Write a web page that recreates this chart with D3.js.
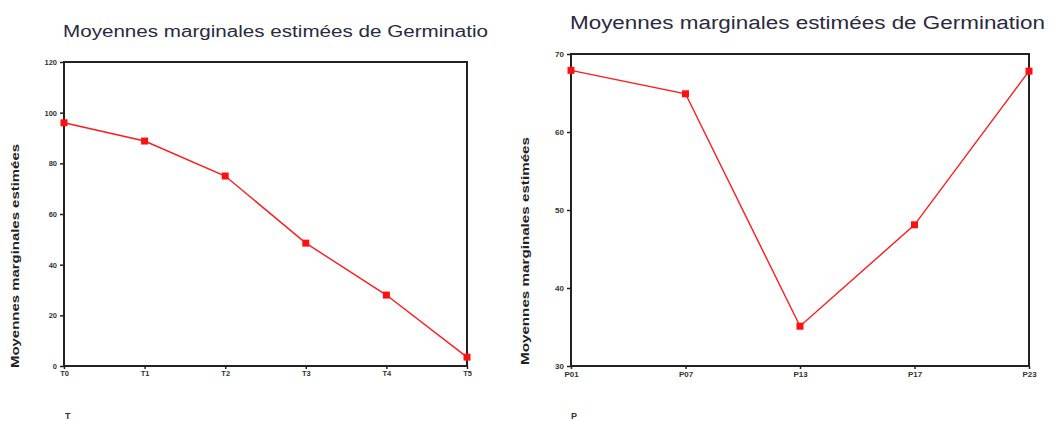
<!DOCTYPE html>
<html>
<head>
<meta charset="utf-8">
<script src="https://cdn.jsdelivr.net/npm/d3@7"></script>
<style>
  body { margin: 0; background: #fff; }
  svg { display: block; font-family: "Liberation Sans", Arial, sans-serif; }
</style>
</head>
<body>
<svg id="chart" width="1059" height="421"></svg>
<script>
// left panel: temps de traitement
const tLabels = ["T0", "T1", "T2", "T3", "T4", "T5"];
const tValues = [96, 88.8, 75, 48.5, 28, 3.5];
const tTicks = [0, 20, 40, 60, 80, 100, 120];

// right panel: provenances
const pLabels = ["P01", "P07", "P13", "P17", "P23"];
const pValues = [67.9, 64.9, 35.1, 48.1, 67.8];
const pTicks = [30, 40, 50, 60, 70];

const titleText = "Moyennes marginales estimées de Germination";
const yTitle = "Moyennes marginales estimées";

const svg = d3.select("#chart");

function drawPanel(opts) {
  const { labels, values, ticks, domain, box, title, xName, tickFont, yLab } = opts;
  const g = svg.append("g");

  const x = d3.scalePoint().domain(labels).range([box.x0, box.x1]);
  const y = d3.scaleLinear().domain(domain).range([box.y1, box.y0]);

  // title
  g.append("text")
    .attr("x", title.x)
    .attr("y", title.y)
    .attr("font-size", title.size)
    .attr("textLength", title.len)
    .attr("lengthAdjust", "spacingAndGlyphs")
    .attr("fill", "#2a2a40")
    .text(title.text);

  // frame
  g.append("rect")
    .attr("x", box.x0)
    .attr("y", box.y0)
    .attr("width", box.x1 - box.x0)
    .attr("height", box.y1 - box.y0)
    .attr("fill", "none")
    .attr("stroke", "#222")
    .attr("stroke-width", 2);

  const yAxis = g.append("g")
    .attr("transform", `translate(${box.x0},0)`)
    .call(d3.axisLeft(y).tickValues(ticks).tickSize(4).tickPadding(3));
  yAxis.select(".domain").remove();
  yAxis.selectAll("line").attr("stroke", "#222").attr("stroke-width", 1.5);
  yAxis.selectAll("text").attr("font-size", tickFont).attr("font-weight", "bold").attr("fill", "#333");

  const xAxis = g.append("g")
    .attr("transform", `translate(0,${box.y1})`)
    .call(d3.axisBottom(x).tickSize(3).tickPadding(2));
  xAxis.select(".domain").remove();
  xAxis.selectAll("line").attr("stroke", "#222").attr("stroke-width", 1.5);
  xAxis.selectAll("text").attr("font-size", tickFont).attr("font-weight", "bold").attr("fill", "#333");

  // y title
  g.append("text")
    .attr("transform", `translate(${yLab.x},${yLab.cy}) rotate(-90)`)
    .attr("text-anchor", "middle")
    .attr("font-size", 10)
    .attr("font-weight", "bold")
    .attr("textLength", yLab.len)
    .attr("lengthAdjust", "spacingAndGlyphs")
    .attr("fill", "#222")
    .text(yTitle);

  // x title
  g.append("text")
    .attr("x", xName.x)
    .attr("y", xName.y)
    .attr("font-size", 9)
    .attr("font-weight", "bold")
    .attr("fill", "#333")
    .text(xName.text);

  const pts = labels.map((l, i) => [x(l), y(values[i])]);

  g.append("path")
    .datum(pts)
    .attr("fill", "none")
    .attr("stroke", "#ff1a1a")
    .attr("stroke-width", 1.4)
    .attr("d", d3.line());

  g.selectAll("rect.mk")
    .data(pts)
    .join("rect")
    .attr("class", "mk")
    .attr("x", d => d[0] - 3.5)
    .attr("y", d => d[1] - 3.5)
    .attr("width", 7)
    .attr("height", 7)
    .attr("fill", "#ff1010");
}

drawPanel({
  labels: tLabels, values: tValues, ticks: tTicks, domain: [0, 120],
  box: { x0: 64, x1: 467, y0: 62, y1: 366 },
  title: { x: 63, y: 37, size: 16, len: 425, text: titleText.slice(0, -1) },
  xName: { x: 65, y: 419, text: "T" },
  tickFont: 7.5,
  yLab: { x: 19, cy: 256, len: 224 }
});

drawPanel({
  labels: pLabels, values: pValues, ticks: pTicks, domain: [30, 70],
  box: { x0: 571, x1: 1029, y0: 54, y1: 366 },
  title: { x: 570, y: 29, size: 18, len: 475, text: titleText },
  xName: { x: 571, y: 419, text: "P" },
  tickFont: 8,
  yLab: { x: 529, cy: 251, len: 228 }
});
</script>
</body>
</html>
